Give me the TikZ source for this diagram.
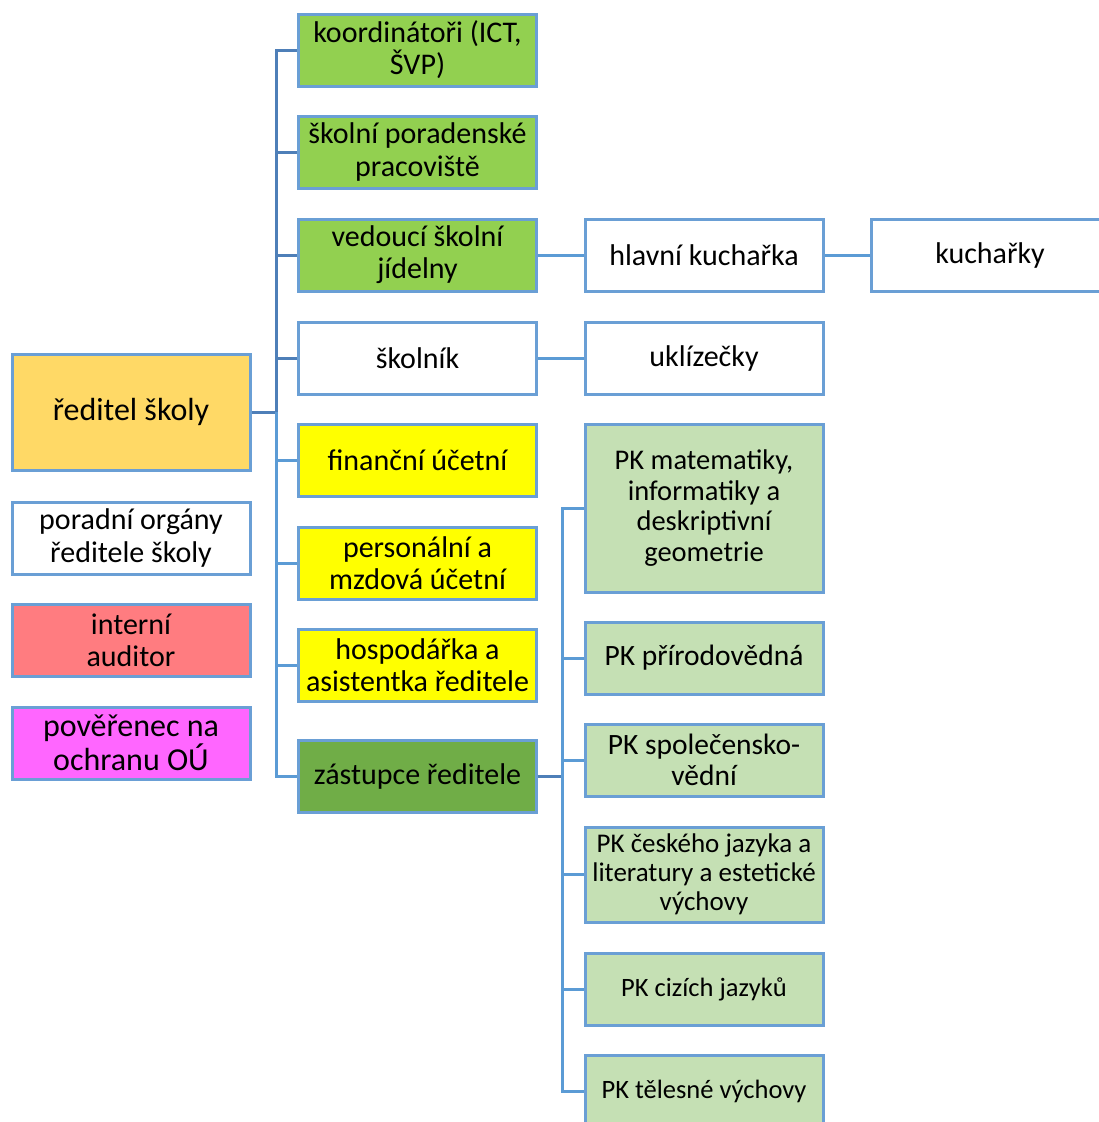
\documentclass[tikz,border=0pt]{standalone}
\usepackage{fontspec}
\setmainfont{Carlito}
\definecolor{bordr}{HTML}{6A9FD5}
\definecolor{lineD}{HTML}{4E7FB8}
\definecolor{lineL}{HTML}{5B9BD5}
\definecolor{gA}{HTML}{92D050}
\definecolor{gB}{HTML}{70AD47}
\definecolor{gC}{HTML}{C5E0B4}
\definecolor{yA}{HTML}{FFFF00}
\definecolor{oA}{HTML}{FFD966}
\definecolor{rA}{HTML}{FF7C80}
\definecolor{mA}{HTML}{FF66FF}
\newcommand{\fs}[1]{\fontsize{#1}{1.07\dimexpr #1pt\relax}\selectfont}
\tikzset{
  box/.style={draw=bordr, line width=3pt, rectangle, align=center, inner sep=2pt,
    minimum width=238pt, minimum height=72pt, font=\fs{30}},
  conD/.style={draw=lineD, line width=3pt},
  conL/.style={draw=lineL, line width=3pt},
}
\begin{document}
\begin{tikzpicture}[x=1pt,y=-1pt]
\useasboundingbox (0,0) rectangle (1099,1122);
\clip (0,0) rectangle (1099,1122);
\fill[white] (0,0) rectangle (1099,1122);
% column 1
\node[box, fill=oA, minimum height=116pt, font=\fs{32}] (red) at (131,412) {ředitel školy};
\node[box, fill=white] (por) at (131,538) {poradní orgány\\ředitele školy};
\node[box, fill=rA] (aud) at (131,640) {interní\\auditor};
\node[box, fill=mA, font=\fs{32}] (pov) at (131,743) {pověřenec na\\ochranu OÚ};
% column 2
\node[box, fill=gA] (koo) at (417.5,50) {koordinátoři (ICT,\\ŠVP)};
\node[box, fill=gA] (spp) at (417.5,152) {školní poradenské\\pracoviště};
\node[box, fill=gA] (ved) at (417.5,255) {vedoucí školní\\jídelny};
\node[box, fill=white] (sko) at (417.5,358) {školník};
\node[box, fill=yA] (fin) at (417.5,460) {finanční účetní};
\node[box, fill=yA] (per) at (417.5,563) {personální a\\mzdová účetní};
\node[box, fill=yA] (hos) at (417.5,665) {hospodářka a\\asistentka ředitele};
\node[box, fill=gB] (zas) at (417.5,776) {zástupce ředitele};
% column 3
\node[box, fill=white] (hlk) at (704,255) {hlavní kuchařka};
\node[box, fill=white] (ukl) at (704,358) {uklízečky};
\node[box, fill=gC, minimum height=168pt, font=\fs{28.5}] (pkm) at (704,508) {PK matematiky,\\informatiky a\\deskriptivní\\geometrie};
\node[box, fill=gC, font=\fs{29.5}] (pkp) at (704,658) {PK přírodovědná};
\node[box, fill=gC, font=\fs{29.5}] (pks) at (704,760) {PK společensko-\\vědní};
\node[box, fill=gC, minimum height=95pt, font=\fs{27}] (pkc) at (704,874.5) {PK českého jazyka a\\literatury a estetické\\výchovy};
\node[box, fill=gC, font=\fs{26.5}] (pkj) at (704,989) {PK cizích jazyků};
\node[box, fill=gC, font=\fs{26.5}] (pkt) at (704,1091) {PK tělesné výchovy};
% column 4
\node[box, fill=white] (kuc) at (990,255) {kuchařky};
% connectors
\coordinate (bus) at ([xshift=25pt]red.east);
\coordinate (bus2) at ([xshift=24pt]zas.east);
\draw[conD] (red.east) -- (bus);
\foreach \n in {koo,spp,ved,sko} \draw[conD] (\n.west) -| (bus);
\foreach \n in {fin,per,hos,zas} \draw[conL] (\n.west) -| (bus);
\draw[conD] (zas.east) -- (bus2);
\foreach \n in {pkm,pkp,pks,pkc,pkj,pkt} \draw[conL] (\n.west) -| (bus2);
\draw[conL] (ved.east) -- (hlk.west);
\draw[conL] (hlk.east) -- (kuc.west);
\draw[conL] (sko.east) -- (ukl.west);
\end{tikzpicture}
\end{document}
